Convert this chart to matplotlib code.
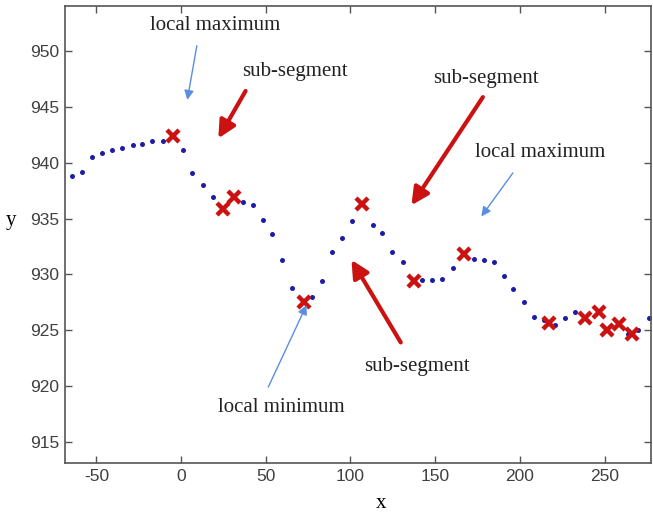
import matplotlib
matplotlib.use('Agg')
import matplotlib.pyplot as plt

plt.rcParams['axes.unicode_minus'] = False

# series of sampled points (blue dots)
x_pts = [-64.4, -58.5, -52.3, -46.8, -40.5, -35.0, -28.5, -22.8, -17.1, -10.6,
         1.0, 6.7, 13.0, 18.6, 36.3, 42.5, 48.2, 53.7, 59.4, 65.6,
         77.2, 83.1, 89.4, 95.1, 101.2, 113.4, 118.9, 124.4, 131.1, 142.1,
         148.4, 153.9, 160.4, 173.2, 178.7, 184.8, 190.4, 195.9, 202.5, 208.1,
         214.4, 220.5, 226.6, 232.7, 263.7, 270.0, 276.5]
y_pts = [938.85, 939.2, 940.53, 940.9, 941.13, 941.37, 941.6, 941.73, 941.97, 941.97,
         941.13, 939.1, 938.0, 936.94, 936.47, 936.2, 934.9, 933.6, 931.26, 928.8,
         928.0, 929.43, 932.0, 933.3, 934.76, 934.4, 933.7, 932.0, 931.14, 929.47,
         929.52, 929.58, 930.54, 931.38, 931.26, 931.14, 929.9, 928.7, 927.5, 926.17,
         925.87, 925.45, 926.05, 926.6, 924.7, 925.0, 926.05]

# segmentation points (red crosses)
x_seg = [-4.5, 24.6, 31.5, 72.5, 106.9, 137.6, 166.9, 217.4, 238.6, 246.5, 251.2, 258.7, 266.1]
y_seg = [942.44, 935.87, 936.94, 927.5, 936.3, 929.4, 931.8, 925.66, 926.1, 926.6, 925.0, 925.56, 924.7]

x_ticks = [-50, 0, 50, 100, 150, 200, 250]
y_ticks = [915, 920, 925, 930, 935, 940, 945, 950]

RED = '#cc1111'
BLUE_ARROW = '#5b8ee0'
DOT = '#1c1ca8'
SERIF = 'Liberation Serif'

fig = plt.figure(figsize=(6.53, 5.14), dpi=100)
ax = fig.add_axes([0.0988, 0.0986, 0.8975, 0.8904])

ax.plot(x_pts, y_pts, 'o', color=DOT, markersize=3.6, markeredgewidth=0)
ax.plot(x_seg, y_seg, 'x', color=RED, markersize=8, markeredgewidth=3.2)

ax.set_xlim(-68.8, 277.2)
ax.set_ylim(913.06, 954.1)
ax.set_xticks(x_ticks)
ax.set_yticks(y_ticks)
ax.tick_params(direction='in', top=True, right=True, length=5, width=1,
               color='#555555', labelcolor='#404040', labelsize=12.5, pad=4)
for lab in ax.get_xticklabels() + ax.get_yticklabels():
    lab.set_family('Liberation Sans')
for sp in ax.spines.values():
    sp.set_color('#555555')
    sp.set_linewidth(1.2)

ax.set_xlabel('x', family=SERIF, fontsize=15)
ax.xaxis.set_label_coords(0.54, -0.068)
ax.set_ylabel('y', family=SERIF, fontsize=15, rotation=0)
ax.yaxis.set_label_coords(-0.092, 0.51)

red_arrow = dict(arrowstyle='-|>', color=RED, lw=3, mutation_scale=26, shrinkA=0, shrinkB=0)
blue_arrow = dict(arrowstyle='-|>', color=BLUE_ARROW, lw=1, mutation_scale=14, shrinkA=0, shrinkB=0)
txt = dict(family=SERIF, fontsize=15, ha='center', va='center', color='#222222')

# annotations
ax.text(20.0, 952.3, 'local maximum', **txt)
ax.annotate('', xy=(3.7, 945.65), xytext=(9.3, 950.5), arrowprops=blue_arrow)

ax.text(67.2, 948.2, 'sub-segment', **txt)
ax.annotate('', xy=(22.0, 942.2), xytext=(38.1, 946.45), arrowprops=red_arrow)

ax.text(180.2, 947.6, 'sub-segment', **txt)
ax.annotate('', xy=(136.0, 936.2), xytext=(178.2, 945.9), arrowprops=red_arrow)

ax.text(212.1, 940.9, 'local maximum', **txt)
ax.annotate('', xy=(177.3, 935.2), xytext=(195.9, 939.1), arrowprops=blue_arrow)

ax.text(139.0, 921.7, 'sub-segment', **txt)
ax.annotate('', xy=(100.6, 931.3), xytext=(129.7, 923.9), arrowprops=red_arrow)

ax.text(59.4, 918.1, 'local minimum', **txt)
ax.annotate('', xy=(74.1, 927.25), xytext=(51.5, 919.9), arrowprops=blue_arrow)

fig.savefig('out.png', dpi=100)
